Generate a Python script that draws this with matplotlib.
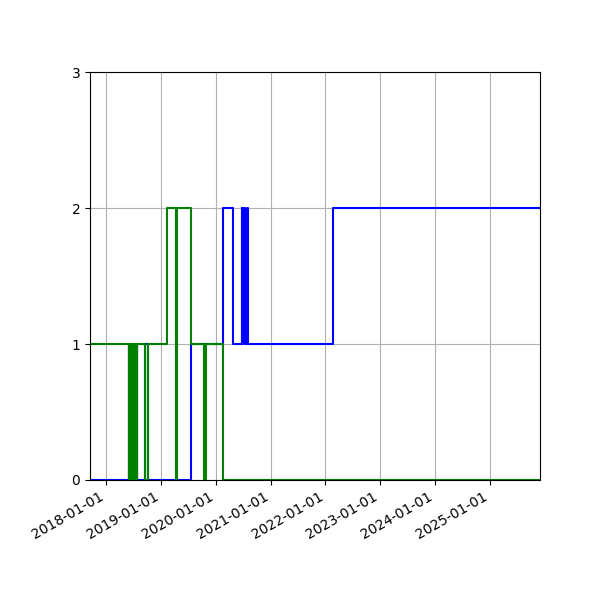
import pandas as pd
import matplotlib
matplotlib.use("Agg")
import matplotlib.pyplot as plt
import matplotlib.dates as mdates

# Datas de mudança de estado e valores de cada série (step "post")
datas = [
    "2017-09-15",
    "2018-05-30", "2018-06-04", "2018-06-08", "2018-06-13", "2018-06-17",
    "2018-06-22", "2018-06-27", "2018-07-01", "2018-07-05", "2018-07-10",
    "2018-07-14", "2018-07-19", "2018-07-22", "2018-07-26",
    "2018-09-17", "2018-10-05",
    "2019-02-07",
    "2019-04-08", "2019-04-16",
    "2019-07-23",
    "2019-10-16", "2019-10-25",
    "2020-02-19",
    "2020-04-26",
    "2020-06-21", "2020-06-27", "2020-07-03", "2020-07-12", "2020-07-25", "2020-08-04",
    "2022-02-20",
    "2025-12-01",
]

azul = [
    0,
    1, 0, 1, 0, 1,
    0, 1, 0, 1, 0,
    1, 0, 1, 0,
    1, 0,
    0,
    0, 0,
    1,
    1, 1,
    2,
    1,
    2, 1, 2, 1, 2, 1,
    2,
    2,
]

verde = [
    1,
    0, 1, 0, 1, 0,
    1, 0, 1, 0, 1,
    0, 1, 0, 1,
    0, 1,
    2,
    0, 2,
    1,
    0, 1,
    0,
    0,
    0, 0, 0, 0, 0, 0,
    0,
    0,
]

datas = pd.to_datetime(datas)

fig, ax = plt.subplots(figsize=(6, 6), dpi=100)

ax.step(datas, azul, where="post", color="blue", linewidth=1.5)
ax.step(datas, verde, where="post", color="green", linewidth=1.5)

ax.set_xlim(datas[0], datas[-1])
ax.set_ylim(0, 3)
ax.set_yticks([0, 1, 2, 3])

ax.xaxis.set_major_locator(mdates.YearLocator())
ax.xaxis.set_major_formatter(mdates.DateFormatter("%Y-%m-%d"))
ax.grid(True)

fig.autofmt_xdate()
fig.subplots_adjust(left=0.15, right=0.9, top=0.88, bottom=0.2)

plt.savefig("out.png", dpi=100)
